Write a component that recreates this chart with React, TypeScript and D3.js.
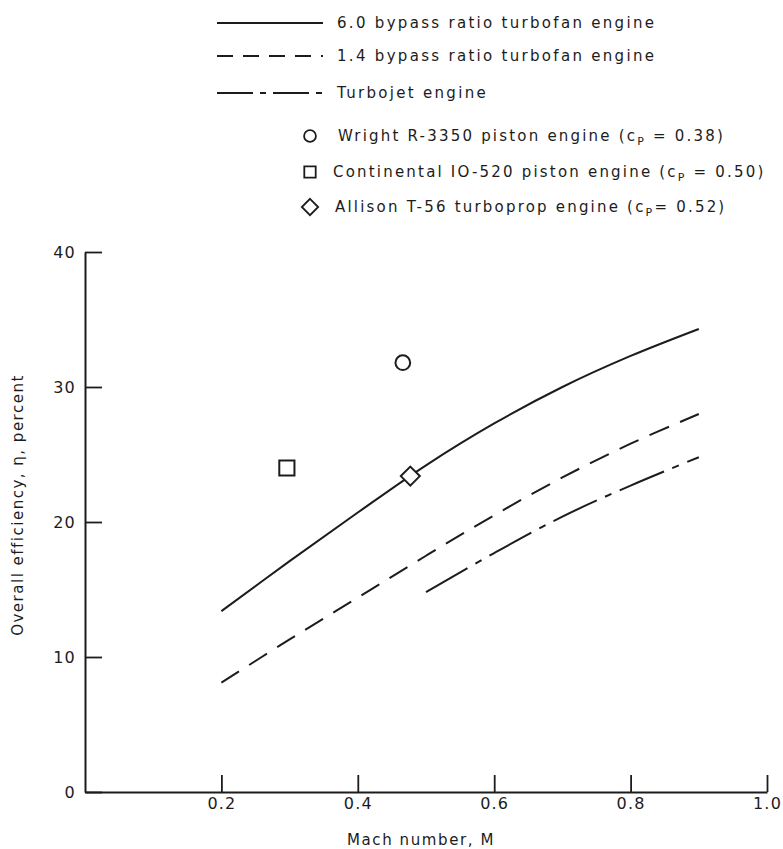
import React, { useEffect, useRef } from "react";
import * as d3 from "d3";

// Mach number vs overall efficiency (percent)
const machTurbofan60 = [0.2, 0.3, 0.4, 0.5, 0.6, 0.7, 0.8, 0.9];
const effTurbofan60 = [13.4, 17.1, 20.7, 24.2, 27.3, 30.0, 32.3, 34.3];

const machTurbofan14 = [0.2, 0.3, 0.4, 0.5, 0.6, 0.7, 0.8, 0.9];
const effTurbofan14 = [8.1, 11.3, 14.4, 17.5, 20.5, 23.3, 25.8, 28.0];

const machTurbojet = [0.5, 0.6, 0.7, 0.8, 0.9];
const effTurbojet = [14.8, 17.7, 20.4, 22.7, 24.8];

// single engines: [mach, efficiency]
const wrightPoint = [0.466, 31.8];
const continentalPoint = [0.296, 24.0];
const allisonPoint = [0.477, 23.4];

const xTicks = [0.2, 0.4, 0.6, 0.8, 1.0];
const yTicks = [0, 10, 20, 30, 40];

const lineLabels = [
  "6.0 bypass ratio turbofan engine",
  "1.4 bypass ratio turbofan engine",
  "Turbojet engine",
];
const pointLabels = [
  { pre: "Wright R-3350 piston engine (c", post: " = 0.38)" },
  { pre: "Continental IO-520 piston engine (c", post: " = 0.50)" },
  { pre: "Allison T-56 turboprop engine (c", post: "= 0.52)" },
];

const INK = "#1c1c1c";
const FONT = "'DejaVu Sans', sans-serif";

function Chart() {
  const ref = useRef<SVGSVGElement>(null);

  useEffect(() => {
    const svg = d3.select(ref.current);
    svg.selectAll("*").remove();

    const x = d3.scaleLinear().domain([0, 1]).range([85, 767]);
    const y = d3.scaleLinear().domain([0, 40]).range([792, 252]);

    // axes, ticks point inward
    const xAxis = svg.append("g")
      .attr("transform", "translate(0," + y(0) + ")")
      .call(d3.axisBottom(x).tickValues(xTicks).tickFormat(d3.format(".1f")).tickSizeInner(-17).tickSizeOuter(0).tickPadding(6));
    const yAxis = svg.append("g")
      .attr("transform", "translate(" + x(0) + ",0)")
      .call(d3.axisLeft(y).tickValues(yTicks).tickFormat(d3.format("d")).tickSizeInner(-17).tickSizeOuter(0).tickPadding(9));

    [xAxis, yAxis].forEach(ax => {
      ax.select(".domain").attr("stroke", INK).attr("stroke-width", 2);
      ax.selectAll(".tick line").attr("stroke", INK).attr("stroke-width", 1.8);
      ax.selectAll(".tick text")
        .attr("fill", INK)
        .attr("font-family", FONT)
        .attr("font-size", 16)
        .attr("letter-spacing", 1.2);
    });

    // axis titles
    svg.append("text")
      .attr("x", 421).attr("y", 845)
      .attr("text-anchor", "middle")
      .attr("font-family", FONT).attr("font-size", 15).attr("letter-spacing", 1.6)
      .attr("fill", INK)
      .text("Mach number, M");

    svg.append("text")
      .attr("transform", "translate(23,505) rotate(-90)")
      .attr("text-anchor", "middle")
      .attr("font-family", FONT).attr("font-size", 15).attr("letter-spacing", 1.5)
      .attr("fill", INK)
      .text("Overall efficiency, η, percent");

    const drawCurve = (mach: number[], eff: number[], dash: string | null) => {
      const pts = mach.map((m, i) => [x(m), y(eff[i])] as [number, number]);
      const p = svg.append("path")
        .attr("d", d3.line().curve(d3.curveCatmullRom)(pts))
        .attr("fill", "none")
        .attr("stroke", INK)
        .attr("stroke-width", 2);
      if (dash) p.attr("stroke-dasharray", dash);
    };

    const dashes = [null, "21,12", "48,9,7,9"];
    drawCurve(machTurbofan60, effTurbofan60, dashes[0]);
    drawCurve(machTurbofan14, effTurbofan14, dashes[1]);
    drawCurve(machTurbojet, effTurbojet, dashes[2]);

    // markers
    const symTypes = [d3.symbolCircle, d3.symbolSquare, d3.symbolDiamond2];
    const pts = [wrightPoint, continentalPoint, allisonPoint];

    pts.forEach((pt, i) => {
      svg.append("path")
        .attr("transform", "translate(" + x(pt[0]) + "," + y(pt[1]) + ")")
        .attr("d", d3.symbol().type(symTypes[i]).size([170, 230, 230][i])())
        .attr("fill", "white")
        .attr("stroke", INK)
        .attr("stroke-width", 2);
    });

    // legend: line samples
    const lg = svg.append("g");
    const lineRowY = [23, 56, 93];
    lineLabels.forEach((label, i) => {
      const l = lg.append("line")
        .attr("x1", 217).attr("x2", 323)
        .attr("y1", lineRowY[i]).attr("y2", lineRowY[i])
        .attr("stroke", INK).attr("stroke-width", 2);
      if (i === 1) l.attr("stroke-dasharray", "16,10");
      if (i === 2) l.attr("stroke-dasharray", "36,7,6,7");
      lg.append("text")
        .attr("x", 337).attr("y", lineRowY[i] + 5)
        .attr("font-family", FONT).attr("font-size", 15).attr("letter-spacing", 2.3)
        .attr("fill", INK)
        .text(label);
    });

    // legend: point symbols
    const pointRowY = [136, 172, 207];
    pointLabels.forEach((pl, i) => {
      lg.append("path")
        .attr("transform", "translate(310," + pointRowY[i] + ")")
        .attr("d", d3.symbol().type(symTypes[i]).size([110, 130, 170][i])())
        .attr("fill", "white")
        .attr("stroke", INK)
        .attr("stroke-width", 1.8);
      const t = lg.append("text")
        .attr("x", [338, 333, 335][i]).attr("y", pointRowY[i] + 5)
        .attr("font-family", FONT).attr("font-size", 15).attr("letter-spacing", 2.2)
        .attr("fill", INK);
      t.append("tspan").text(pl.pre);
      t.append("tspan").attr("font-size", 11).attr("dy", 4).text("P");
      t.append("tspan").attr("dy", -4).text(pl.post);
    });

    return () => {
      svg.selectAll("*").remove();
    };
  }, []);

  return (
    <svg ref={ref} width={783} height={849} style={{ position: "absolute", left: 0, top: 0, background: "white" }} />
  );
}

export default function App() {
  return <Chart />;
}
